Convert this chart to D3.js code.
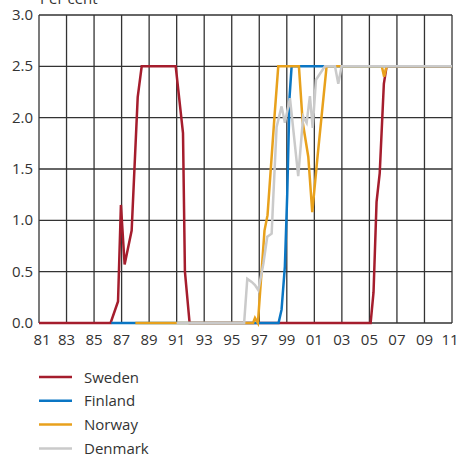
<!DOCTYPE html>
<html><head><meta charset="utf-8">
<script src="https://cdn.jsdelivr.net/npm/d3@7"></script>
<style>
html,body{margin:0;padding:0;background:#fff;}
svg text{font-family:"Open Sans",sans-serif;fill:#333;}
</style></head>
<body>
<svg id="c" width="457" height="457"></svg>
<script>
const yTicks = [0, 0.5, 1.0, 1.5, 2.0, 2.5, 3.0];
const xTicks = [1981,1983,1985,1987,1989,1991,1993,1995,1997,1999,2001,2003,2005,2007,2009,2011];
const seriesNames = ["Sweden","Finland","Norway","Denmark"];
const seriesColors = ["#a51d2d","#0a76c4","#e8a11c","#cacaca"];

const swedenX = [1981,1986.2,1986.74,1986.95,1987.22,1987.73,1988.17,1988.46,1990.93,1991.46,1991.6,1991.94,2005.09,2005.3,2005.52,2005.75,2006.05,2006.25,2011];
const swedenY = [0,0,0.21,1.15,0.57,0.9,2.2,2.5,2.5,1.85,0.5,0,0,0.3,1.18,1.46,2.33,2.5,2.5];

const finlandX = [1986.25,1998.4,1998.62,1998.86,1999.03,1999.2,1999.35,2011];
const finlandY = [0,0,0.13,0.55,1.25,2.2,2.5,2.5];

const norwayX = [1988,1996.55,1996.69,1996.9,1997.38,1997.6,1998.1,1998.38,1999.88,2000.15,2000.56,2000.85,2001.21,2001.89,2005.9,2006.07,2006.25,2011];
const norwayY = [0,0,0.05,0,0.9,1.05,2.0,2.5,2.5,1.96,1.62,1.08,1.59,2.5,2.5,2.4,2.5,2.5];

const denmarkX = [1991,1995.9,1996.13,1996.45,1996.69,1996.93,1997.3,1997.58,1997.9,1998.0,1998.26,1998.62,1998.86,1999.23,1999.83,2000.19,2000.44,2000.68,2000.88,2001.12,2001.77,2002.5,2002.74,2002.98,2011];
const denmarkY = [0,0,0.43,0.40,0.37,0.32,0.58,0.84,0.87,1.17,1.91,2.11,1.95,2.19,1.43,2.01,1.95,2.21,1.9,2.37,2.5,2.5,2.33,2.5,2.5];

const seriesX = [swedenX, finlandX, norwayX, denmarkX];
const seriesY = [swedenY, finlandY, norwayY, denmarkY];

const svg = d3.select("#c");
const x = d3.scaleLinear().domain([1981, 2011]).range([39, 452]);
const y = d3.scaleLinear().domain([0, 3]).range([323, 15]);

// grid
const g = svg.append("g");
g.selectAll("line.h").data(yTicks).join("line")
  .attr("x1", x(1981)).attr("x2", x(2011))
  .attr("y1", d => y(d)).attr("y2", d => y(d))
  .attr("stroke", "#333").attr("stroke-width", 1.3);
g.selectAll("line.v").data(xTicks).join("line")
  .attr("x1", d => x(d)).attr("x2", d => x(d))
  .attr("y1", y(0)).attr("y2", y(3))
  .attr("stroke", "#333").attr("stroke-width", 1.3);

// y labels
svg.append("g").selectAll("text").data(yTicks).join("text")
  .attr("x", 33).attr("y", d => y(d) + 5)
  .attr("text-anchor", "end").attr("font-size", 15)
  .text(d => d3.format(".1f")(d));
// x labels
svg.append("g").selectAll("text").data(xTicks).join("text")
  .attr("x", d => x(d) + (d === 1981 ? 3 : 0) - (d === 2011 ? 2 : 0)).attr("y", 345)
  .attr("text-anchor", "middle").attr("font-size", 15)
  .text(d => String(d % 100).padStart(2, "0"));
// unit label
svg.append("text").attr("x", 40).attr("y", 4).attr("font-size", 15).text("Per cent");

// lines
const line = d3.line().x(d => x(d[0])).y(d => y(d[1]));
seriesNames.forEach((n, i) => {
  const pts = seriesX[i].map((v, j) => [v, seriesY[i][j]]);
  svg.append("path").datum(pts).attr("d", line)
    .attr("fill", "none").attr("stroke", seriesColors[i])
    .attr("stroke-width", 2.5).attr("stroke-linejoin", "miter");
});

// legend
const lg = svg.append("g");
seriesNames.forEach((n, i) => {
  const yy = 377 + i * 23.8;
  lg.append("line").attr("x1", 39).attr("x2", 72).attr("y1", yy).attr("y2", yy)
    .attr("stroke", seriesColors[i]).attr("stroke-width", 2.5);
  lg.append("text").attr("x", 84).attr("y", yy + 5.5).attr("font-size", 15).text(n);
});
</script>
</body></html>
